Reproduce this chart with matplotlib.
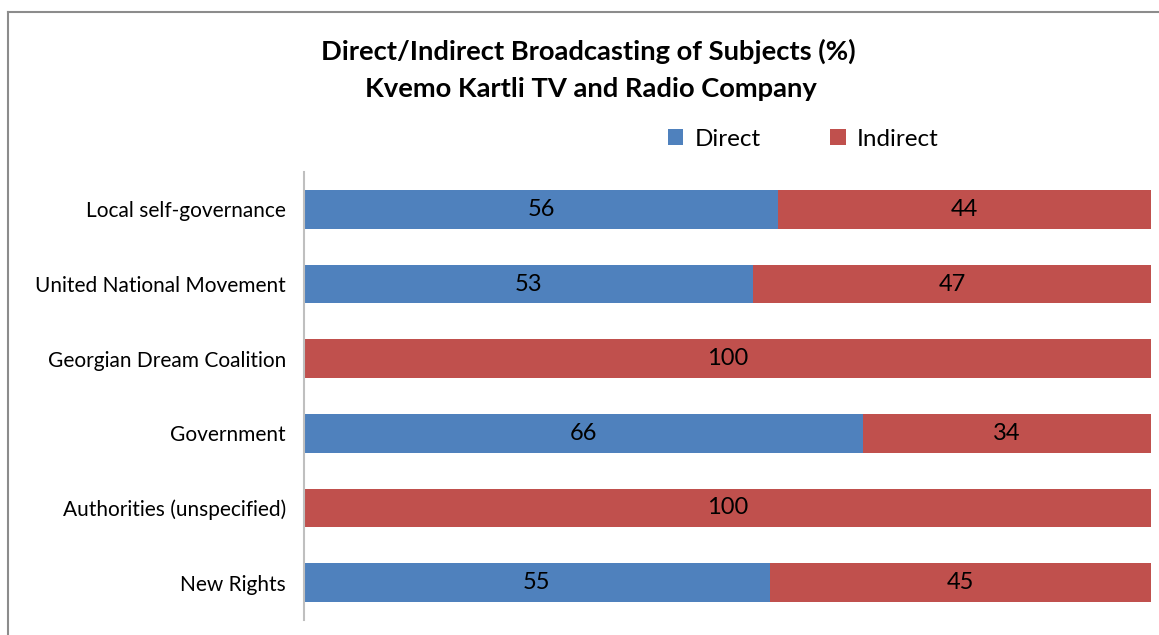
import matplotlib
matplotlib.use("Agg")
import matplotlib.pyplot as plt
from matplotlib.patches import Patch
from matplotlib.lines import Line2D

categories = ["Local self-governance", "United National Movement", "Georgian Dream Coalition",
              "Government", "Authorities (unspecified)", "New Rights"]
direct = [56, 53, 0, 66, 0, 55]
indirect = [44, 47, 100, 34, 100, 45]
series_names = ["Direct", "Indirect"]
colors = ["#4F81BD", "#C0504D"]

plt.rcParams['font.family'] = ['Lato', 'DejaVu Sans']

W, H = 1159, 635
fig = plt.figure(figsize=(W / 100, H / 100), dpi=100)
ax = fig.add_axes([304 / W, 1 - 620 / H, (1151 - 304) / W, (620 - 172) / H])

ypos = list(range(len(categories)))
ax.barh(ypos, direct, height=0.52, color=colors[0])
ax.barh(ypos, indirect, left=direct, height=0.52, color=colors[1])

for y, d, i in zip(ypos, direct, indirect):
    if d > 0:
        ax.text(d / 2, y, str(d), ha="center", va="center", fontsize=17, color="black")
    if i > 0:
        ax.text(d + i / 2, y, str(i), ha="center", va="center", fontsize=17, color="black")

ax.set_xlim(0, 100)
ax.set_ylim(len(categories) - 0.5, -0.5)
ax.set_yticks(ypos)
ax.set_yticklabels(categories, fontsize=15)
ax.tick_params(axis="y", length=0, pad=13)
ax.set_xticks([])
for s in ["top", "right", "bottom"]:
    ax.spines[s].set_visible(False)
ax.spines["left"].set_color("#BFBFBF")
ax.spines["left"].set_linewidth(1.5)

fig.text(588 / W, 1 - 51 / H, "Direct/Indirect Broadcasting of Subjects (%)", ha="center", va="center",
         fontsize=19.7, fontweight="bold")
fig.text(591 / W, 1 - 89 / H, "Kvemo Kartli TV and Radio Company", ha="center", va="center",
         fontsize=19.7, fontweight="bold")

handles = [Patch(facecolor=c) for c in colors]
fig.legend(handles, series_names, loc="center", bbox_to_anchor=(803 / W, 1 - 139 / H), ncol=2,
           frameon=False, fontsize=17.5, handlelength=0.65, handleheight=0.65, handletextpad=0.45,
           columnspacing=2.85)

# outer border
fig.add_artist(Line2D([8 / W, 8 / W], [0, 1 - 12 / H], transform=fig.transFigure, color="#8C8C8C", lw=1.5))
fig.add_artist(Line2D([8 / W, 1], [1 - 12 / H, 1 - 12 / H], transform=fig.transFigure, color="#8C8C8C", lw=1.5))

fig.savefig("out.png", dpi=100)
